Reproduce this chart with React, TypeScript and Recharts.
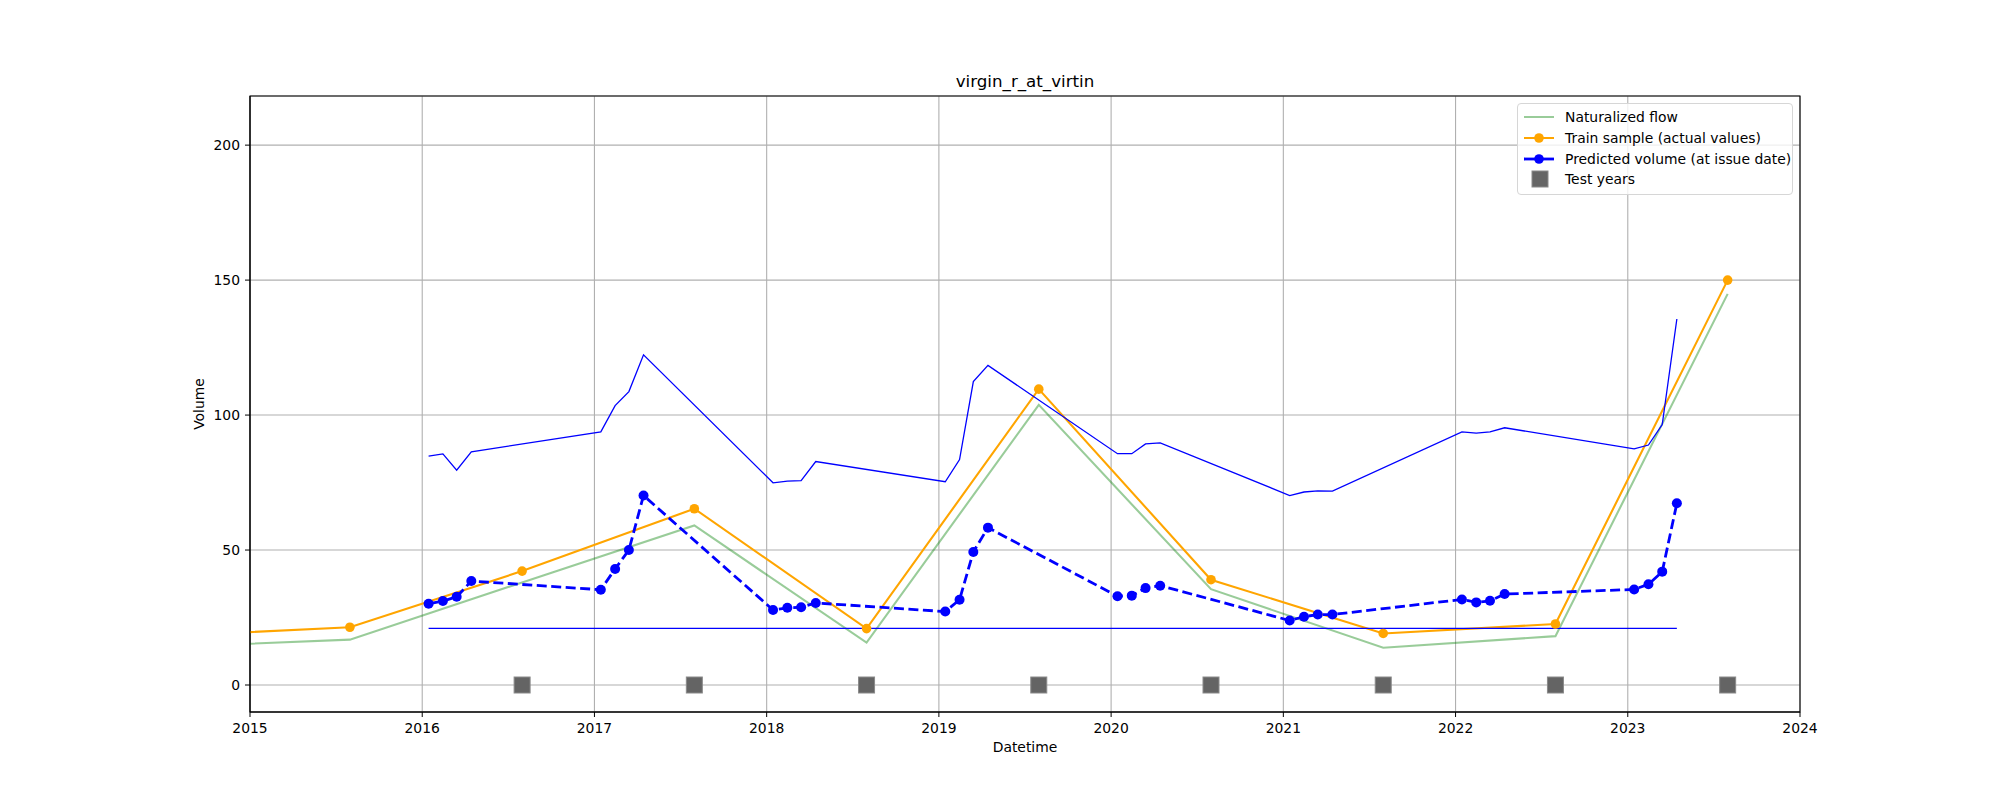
import React from 'react'
import { ComposedChart, Line, XAxis, YAxis, CartesianGrid, Legend, ReferenceArea, Label } from 'recharts'

// sample dates (fractional years, ~Aug 1) for the yearly volumes
const sampleYears = [2014.58, 2015.58, 2016.58, 2017.58, 2018.58, 2019.58, 2020.58, 2021.58, 2022.58, 2023.58]
const naturalized = [14.2, 16.8, 38.0, 59.1, 15.7, 103.8, 35.5, 13.8, 18.1, 144.9]
const trainActual = [18.3, 21.4, 42.2, 65.3, 20.9, 109.6, 39.0, 19.1, 22.6, 150.0]

const testYears = [2016.58, 2017.58, 2018.58, 2019.58, 2020.58, 2021.58, 2022.58, 2023.58]
const testLevel = [0, 0, 0, 0, 0, 0, 0, 0]

// issue dates: mid Jan / Feb / Mar / Apr of each forecast year
const issueDates = [
  2016.037, 2016.12, 2016.2, 2016.285,
  2017.037, 2017.12, 2017.2, 2017.285,
  2018.037, 2018.12, 2018.2, 2018.285,
  2019.037, 2019.12, 2019.2, 2019.285,
  2020.037, 2020.12, 2020.2, 2020.285,
  2021.037, 2021.12, 2021.2, 2021.285,
  2022.037, 2022.12, 2022.2, 2022.285,
  2023.037, 2023.12, 2023.2, 2023.285,
]
const predicted = [
  30.1, 31.1, 32.7, 38.5,
  35.3, 43.0, 50.0, 70.2,
  27.8, 28.6, 28.8, 30.4,
  27.2, 31.6, 49.3, 58.3,
  32.9, 33.1, 35.9, 36.8,
  23.9, 25.3, 26.1, 26.1,
  31.7, 30.6, 31.2, 33.7,
  35.4, 37.3, 42.0, 67.3,
]
const upperBound = [
  84.8, 85.6, 79.6, 86.4,
  93.8, 103.5, 108.7, 122.3,
  74.9, 75.5, 75.7, 82.8,
  75.3, 83.5, 112.4, 118.4,
  85.7, 85.7, 89.3, 89.7,
  70.2, 71.5, 71.9, 71.8,
  93.8, 93.3, 93.8, 95.3,
  87.5, 88.9, 96.5, 135.6,
]
const lowerBound = [
  21, 21, 21, 21, 21, 21, 21, 21, 21, 21, 21, 21, 21, 21, 21, 21,
  21, 21, 21, 21, 21, 21, 21, 21, 21, 21, 21, 21, 21, 21, 21, 21,
]

const xTicks = [2015, 2016, 2017, 2018, 2019, 2020, 2021, 2022, 2023, 2024]
const yTicks = [0, 50, 100, 150, 200]
const X_DOMAIN = [2015, 2024]
const Y_DOMAIN = [-10, 218.2]

const FONT = '"DejaVu Sans", sans-serif'

const zip = (xs: number[], ys: number[]) => xs.map((x, i) => ({ x, y: ys[i] }))

const naturalizedData = zip(sampleYears, naturalized)
const trainData = zip(sampleYears, trainActual)
const testData = zip(testYears, testLevel)
const predictedData = zip(issueDates, predicted)
const upperData = zip(issueDates, upperBound)
const lowerData = zip(issueDates, lowerBound)

const legendItems = [
  { label: 'Naturalized flow', kind: 'line', color: 'rgb(153,204,153)' },
  { label: 'Train sample (actual values)', kind: 'marker', color: '#ffa500' },
  { label: 'Predicted volume (at issue date)', kind: 'dashed', color: '#0000ff' },
  { label: 'Test years', kind: 'square', color: '#666666' },
]

function LegendBox() {
  return (
    <div
      style={{
        background: 'rgba(255,255,255,0.8)',
        border: '1px solid #d6d6d6',
        borderRadius: 4,
        padding: '3px 0 4px 0',
        width: 274,
        fontFamily: FONT,
        fontSize: 13.9,
        color: '#000',
      }}
    >
      {legendItems.map((it) => (
        <div key={it.label} style={{ display: 'flex', alignItems: 'center', height: 20.7 }}>
          <svg width={44} height={20} style={{ marginLeft: 3 }}>
            {it.kind === 'square' ? (
              <rect x={11} y={2} width={16} height={16} fill={it.color} stroke="#8a8a8a" strokeWidth={1} />
            ) : (
              <>
                <line x1={3} x2={33} y1={10} y2={10} stroke={it.color} strokeWidth={it.kind === 'dashed' ? 2.8 : 2} />
                {it.kind !== 'line' && <circle cx={18} cy={10} r={4.8} fill={it.color} />}
              </>
            )}
          </svg>
          <span>{it.label}</span>
        </div>
      ))}
    </div>
  )
}

const TestSquare = (props: any) => {
  const { cx, cy } = props
  if (cx == null || cy == null) return null
  return <rect x={cx - 8} y={cy - 8} width={16} height={16} fill="#646464" stroke="#8a8a8a" strokeWidth={1} />
}

export default function App() {
  return (
    <div style={{ position: 'absolute', left: 0, top: 0, width: 2000, height: 800, background: '#fff' }}>
      <ComposedChart width={2000} height={800} margin={{ top: 96, right: 200, bottom: 38, left: 190 }}>
        <CartesianGrid stroke="#b0b0b0" strokeWidth={1.1} />
        <XAxis
          type="number"
          dataKey="x"
          domain={X_DOMAIN}
          ticks={xTicks}
          allowDataOverflow
          height={50}
          tickSize={5}
          tickMargin={6}
          tickLine={{ stroke: '#000' }}
          axisLine={{ stroke: '#000' }}
          tick={{ fill: '#000', fontSize: 13.9, fontFamily: FONT }}
        >
          <Label
            content={() => (
              <text x={1025} y={752} textAnchor="middle" fill="#000" fontSize={13.9} fontFamily={FONT}>
                Datetime
              </text>
            )}
          />
          <Label
            content={() => (
              <text x={1025} y={86.5} textAnchor="middle" fill="#000" fontSize={16.7} fontFamily={FONT}>
                virgin_r_at_virtin
              </text>
            )}
          />
        </XAxis>
        <YAxis
          type="number"
          dataKey="y"
          domain={Y_DOMAIN}
          ticks={yTicks}
          allowDataOverflow
          width={60}
          tickSize={5}
          tickMargin={5}
          tickLine={{ stroke: '#000' }}
          axisLine={{ stroke: '#000' }}
          tick={{ fill: '#000', fontSize: 13.9, fontFamily: FONT }}
        >
          <Label
            content={() => (
              <text
                x={204}
                y={404}
                transform="rotate(-90 204 404)"
                textAnchor="middle"
                fill="#000"
                fontSize={13.9}
                fontFamily={FONT}
              >
                Volume
              </text>
            )}
          />
        </YAxis>
        <ReferenceArea x1={2015} x2={2024} y1={-10} y2={218.2} fill="none" stroke="#000" strokeWidth={1.1} fillOpacity={0} />
        <Line
          data={naturalizedData}
          dataKey="y"
          stroke="green"
          strokeOpacity={0.4}
          strokeWidth={2.1}
          dot={false}
          isAnimationActive={false}
          legendType="none"
        />
        <Line
          data={trainData}
          dataKey="y"
          stroke="#ffa500"
          strokeWidth={2.1}
          dot={{ r: 4.8, fill: '#ffa500', stroke: 'none' }}
          isAnimationActive={false}
        />
        <Line
          data={predictedData}
          dataKey="y"
          stroke="#0000ff"
          strokeWidth={2.8}
          strokeDasharray="10 4.5"
          dot={{ r: 5, fill: '#0000ff', stroke: 'none' }}
          isAnimationActive={false}
        />
        <Line
          data={testData}
          dataKey="y"
          stroke="none"
          dot={<TestSquare />}
          isAnimationActive={false}
        />
        <Line data={upperData} dataKey="y" stroke="#0000ff" strokeWidth={1.3} dot={false} isAnimationActive={false} />
        <Line data={lowerData} dataKey="y" stroke="#0000ff" strokeWidth={1.3} dot={false} isAnimationActive={false} />
        <Legend
          layout="horizontal"
          verticalAlign="middle"
          align="center"
          content={() => <LegendBox />}
          wrapperStyle={{ position: 'absolute', left: 1517, top: 103, width: 276, margin: 0 }}
        />
      </ComposedChart>
    </div>
  )
}
